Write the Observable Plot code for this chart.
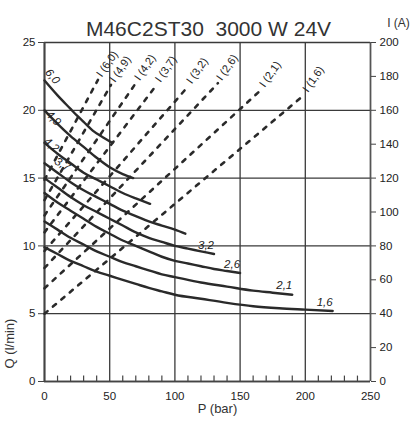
<!DOCTYPE html>
<html><head><meta charset="utf-8">
<script src="https://cdn.jsdelivr.net/npm/d3@7"></script>
<script src="https://cdn.jsdelivr.net/npm/@observablehq/plot@0.6"></script>
<style>body{margin:0;background:#fff}</style>
</head><body><div id="chart"></div>
<script>
const titleText = "M46C2ST30  3000 W 24V";
const pressureTicks = [0, 50, 100, 150, 200, 250];
const flowTicks = [0, 5, 10, 15, 20, 25];
const currentTicks = [0, 20, 40, 60, 80, 100, 120, 140, 160, 180, 200];
const minorPressureTicks = [10,20,30,40,60,70,80,90,110,120,130,140,160,170,180,190,210,220,230,240];

const curveNames = ["6,0","4,9","4,2","3,7","3,2","2,6","2,1","1,6"];
const curve60 = [[0,22.2],[10,21.1],[20,20.1],[25,19.6],[30,19.15],[37,18.5],[45,18.0],[52,17.6]];
const curve49 = [[0,20.0],[10,19.0],[20,18.1],[30,17.3],[40,16.5],[50,15.8],[60,15.3],[68,15.0]];
const curve42 = [[0,17.6],[10,16.8],[20,16.1],[30,15.4],[40,14.9],[50,14.4],[60,13.9],[70,13.5],[81,13.1]];
const curve37 = [[0,16.1],[10,15.4],[20,14.7],[30,14.1],[40,13.6],[50,13.1],[60,12.6],[70,12.2],[80,11.8],[90,11.5],[100,11.2],[108,10.9]];
const curve32 = [[0,15.0],[10,14.3],[20,13.6],[30,13.0],[40,12.5],[50,12.0],[60,11.5],[70,11.0],[80,10.6],[90,10.3],[100,10.0],[110,9.8],[120,9.6],[130,9.4]];
const curve26 = [[0,13.9],[10,13.2],[20,12.6],[30,12.0],[40,11.4],[50,10.9],[60,10.4],[70,10.0],[80,9.6],[90,9.2],[100,8.9],[110,8.7],[120,8.5],[130,8.3],[140,8.15],[150,8.0]];
const curve21 = [[0,11.8],[10,11.2],[20,10.6],[30,10.1],[40,9.6],[50,9.2],[60,8.8],[70,8.5],[80,8.2],[90,7.9],[100,7.7],[120,7.3],[140,7.0],[160,6.7],[175,6.55],[190,6.4]];
const curve16 = [[0,9.9],[10,9.4],[20,8.9],[30,8.5],[40,8.1],[50,7.8],[60,7.5],[70,7.2],[80,6.9],[90,6.65],[100,6.4],[120,6.1],[140,5.8],[160,5.55],[180,5.4],[200,5.3],[221,5.2]];
const curves = [curve60, curve49, curve42, curve37, curve32, curve26, curve21, curve16];

// current lines I (A): start pressure/current, end pressure/current
const currentStartP = [0, 0, 0, 0, 0, 0, 0, 0];
const currentStartI = [119, 107, 98, 88, 77, 67, 55, 40];
const currentEndP   = [41, 51, 70, 86, 110, 133, 166, 199];
const currentEndI   = [178, 175, 176, 175, 174, 176, 172, 169];

const I_PER_Q = 8; // right axis 0..200 A over left axis 0..25 l/min

const curveData = curves.flatMap((c, i) => c.map(([P, Q]) => ({name: curveNames[i], P, Q})));
const dashData = curveNames.flatMap((n, i) => [
  {name: n, P: currentStartP[i], I: currentStartI[i]},
  {name: n, P: currentEndP[i], I: currentEndI[i]}
]);
const dashTops = curveNames.map((n, i) => ({name: n, P: currentEndP[i], I: currentEndI[i]}));
const firstPts = curves.map((c, i) => ({name: curveNames[i], P: c[0][0], Q: c[0][1]}));
const lastPts = curves.map((c, i) => ({name: curveNames[i], P: c[c.length-1][0], Q: c[c.length-1][1]}));

const ink = "#2a2a2a";
const gridInk = "#3a3a3a";
// style of the labels placed at the start of the upper curves
const leftLabelStyle = {
  "6,0": {rotate: 50, dx: 8, dy: -4},
  "4,9": {rotate: 45, dx: 9, dy: 8},
  "4,2": {rotate: 40, dx: 7, dy: 2},
  "3,7": {rotate: 30, dx: 18, dy: 1}
};

const leftLabelMarks = Object.entries(leftLabelStyle).map(([name, s]) =>
  Plot.text(firstPts.filter(d => d.name === name), {x: "P", y: "Q", text: "name", textAnchor: "middle",
    rotate: s.rotate, dx: s.dx, dy: s.dy, fontSize: 11.5, fontStyle: "italic", fill: "#222"})
);

const chart = Plot.plot({
  width: 411, height: 423,
  marginLeft: 44, marginRight: 41, marginTop: 42, marginBottom: 42,
  style: {fontFamily: "'Liberation Sans', Arial, sans-serif", fontSize: "11.5px", color: "#222", background: "#fff"},
  x: {domain: [0, 250]},
  y: {domain: [0, 25]},
  marks: [
    Plot.gridX(pressureTicks, {stroke: gridInk, strokeOpacity: 1, strokeWidth: 1.3}),
    Plot.gridY(flowTicks, {stroke: gridInk, strokeOpacity: 1, strokeWidth: 1.3}),
    Plot.ruleX([0], {stroke: "#444", strokeWidth: 2}),
    Plot.ruleX([250], {stroke: "#555", strokeWidth: 1.5}),
    Plot.ruleY([0], {stroke: "#444", strokeWidth: 1.6}),
    Plot.ruleX(minorPressureTicks, {y1: 0, y2: 0.4, stroke: "#444", strokeWidth: 1.2}),
    Plot.axisY(flowTicks, {tickSize: 6, tickPadding: 3, label: null, stroke: "#444"}),
    Plot.axisY(currentTicks.map(d => d / I_PER_Q), {anchor: "right", tickFormat: d => Math.round(d * I_PER_Q), tickSize: 5, tickPadding: 4, label: null, stroke: "#444"}),
    Plot.axisX(pressureTicks, {tickSize: 0, tickPadding: 10, label: null}),
    Plot.line(dashData, {x: "P", y: d => d.I / I_PER_Q, z: "name", stroke: ink, strokeWidth: 2.6, strokeDasharray: "4,7"}),
    Plot.line(curveData, {x: "P", y: "Q", z: "name", stroke: ink, strokeWidth: 2.4, curve: "monotone-x"}),
    Plot.text(dashTops, {x: "P", y: d => d.I / I_PER_Q, text: d => `I (${d.name})`, textAnchor: "start", rotate: -55, dx: 1, dy: -4, fontSize: 11, fill: "#222"}),
    ...leftLabelMarks,
    Plot.text(lastPts.filter(d => !(d.name in leftLabelStyle)), {x: "P", y: "Q", text: "name", textAnchor: "end", dx: 0, dy: -9, fontSize: 11.5, fontStyle: "italic", fill: "#222"}),
    Plot.text([titleText], {frameAnchor: "top", dx: 1, dy: -21, fontSize: 21, fill: "#333"}),
    Plot.text(["I (A)"], {frameAnchor: "top-right", textAnchor: "middle", dx: 28, dy: -24, fontSize: 12, fill: "#333"}),
    Plot.text(["Q (l/min)"], {frameAnchor: "bottom-left", textAnchor: "middle", dx: -31, dy: -38, rotate: -90, fontSize: 13, fill: "#333"}),
    Plot.text(["P (bar)"], {frameAnchor: "bottom", dx: 10, dy: 31, fontSize: 13, fill: "#333"})
  ]
});
document.getElementById("chart").appendChild(chart);
</script>
</body></html>
